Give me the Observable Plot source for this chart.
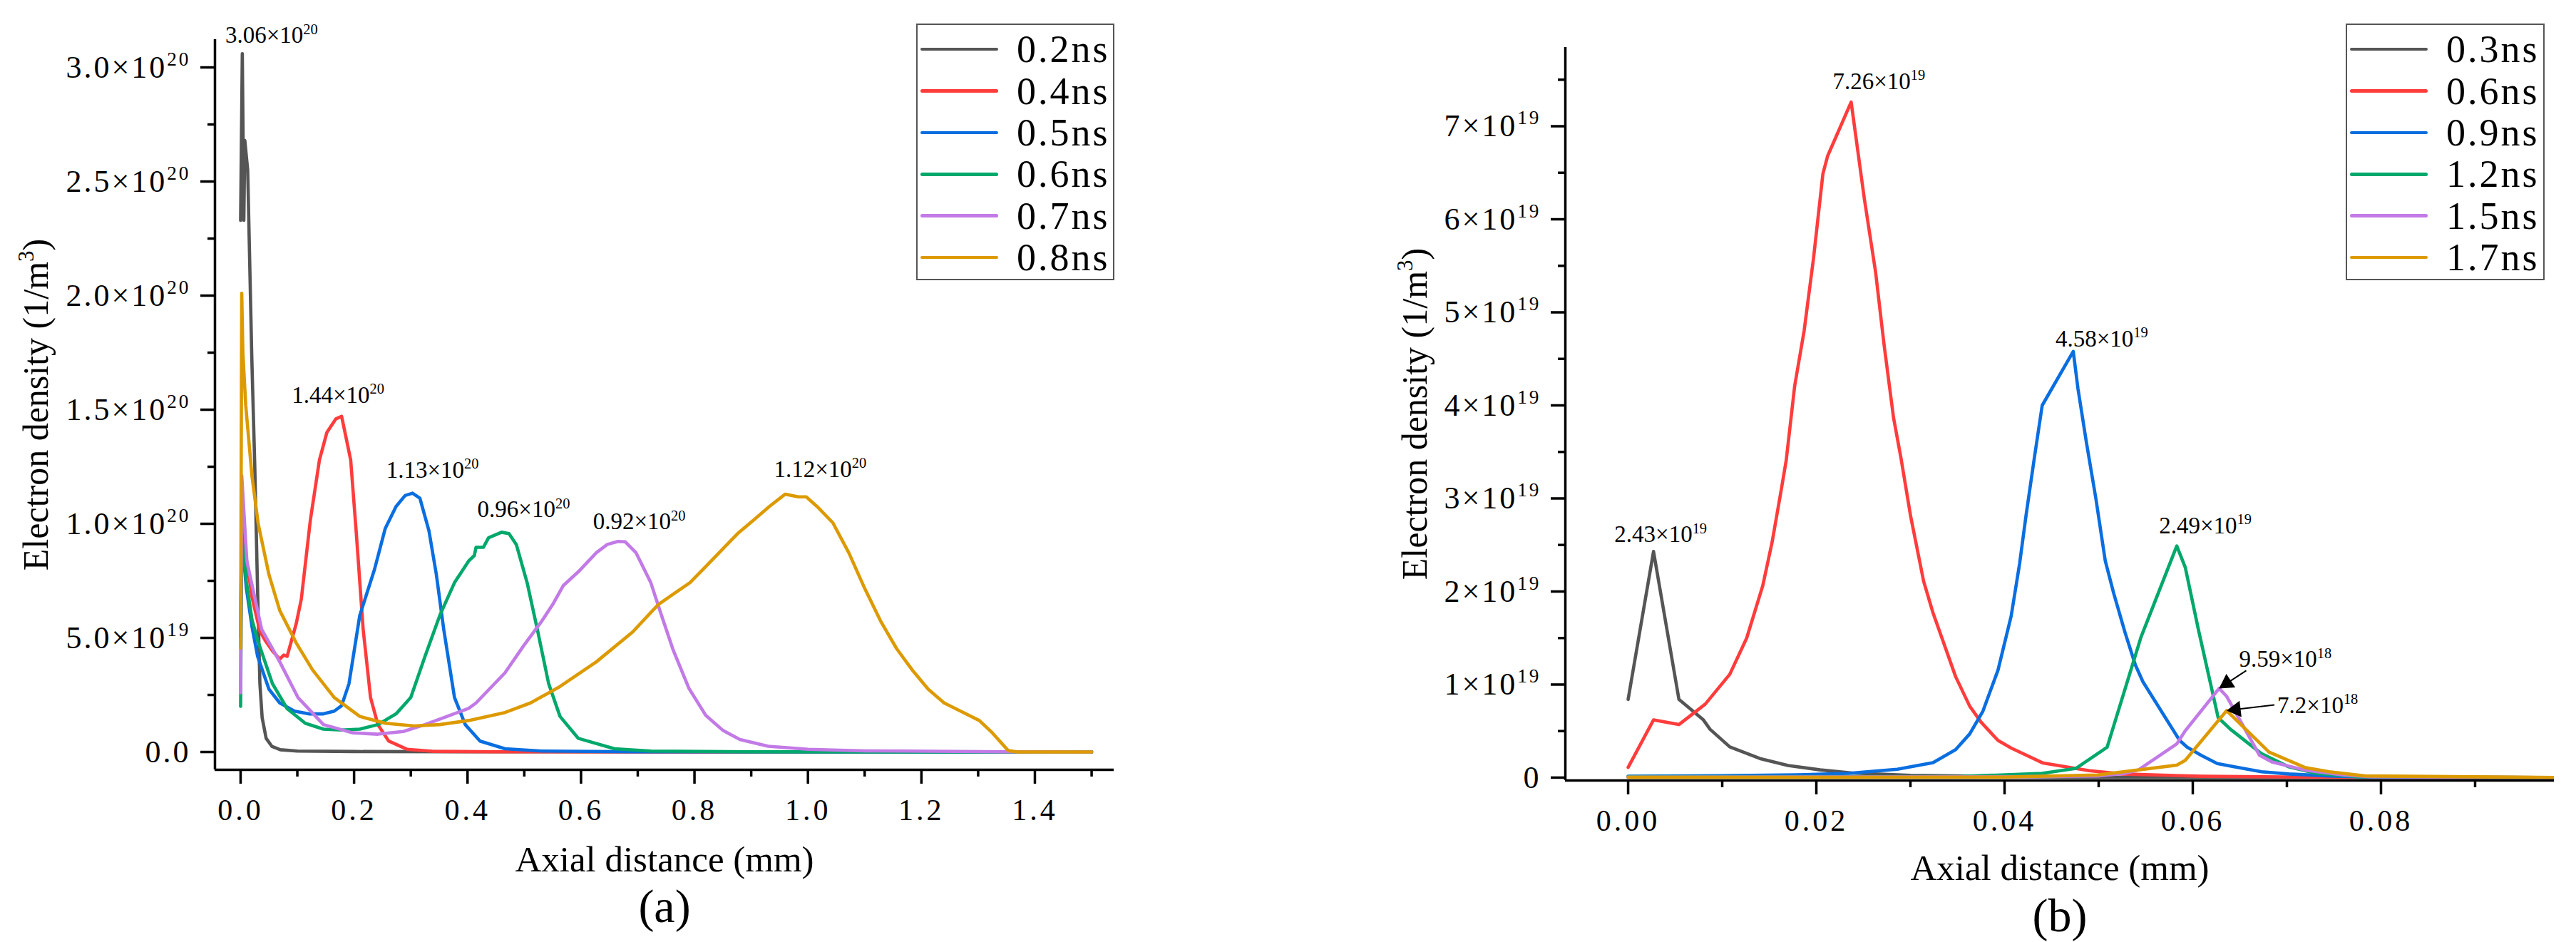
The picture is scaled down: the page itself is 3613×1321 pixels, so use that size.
<!DOCTYPE html>
<html>
<head>
<meta charset="utf-8">
<script src="https://cdn.jsdelivr.net/npm/d3@7"></script>
<script src="https://cdn.jsdelivr.net/npm/@observablehq/plot@0.6"></script>
<style>
  html, body { margin: 0; padding: 0; background: #fff; }
  #wrap { position: relative; width: 3613px; height: 1321px; overflow: hidden;
          font-family: "Liberation Serif", "DejaVu Serif", serif; }
  .legend { position: absolute; box-sizing: border-box; border: 2px solid #555; background: #fff;
            padding: 5px 0 5px 4px; }
  .legend .row { display: flex; align-items: center; height: 58.4px; }
  .legend .sw { width: 109px; height: 4.6px; border-radius: 3px; flex: none; }
  .legend .lab { margin-left: 26px; font-size: 54px; line-height: 1; color: #000; white-space: nowrap; letter-spacing: 3px; }
</style>
</head>
<body>
<div id="wrap"></div>
<script>
// ---------------- DATA : panel (a) ----------------
const seriesA = ["0.2ns", "0.4ns", "0.5ns", "0.6ns", "0.7ns", "0.8ns"];
// axial distance (mm), electron density in units of 1e20 m^-3
const xA02 = [0, 0.003, 0.0057, 0.0074, 0.0125, 0.0197, 0.025, 0.030, 0.034, 0.038, 0.045, 0.055, 0.070, 0.100, 0.200, 0.400, 1.500];
const yA02 = [2.33, 3.06, 2.33, 2.68, 2.55, 1.73, 1.25, 0.70, 0.30, 0.15, 0.06, 0.025, 0.010, 0.004, 0.002, 0.001, 0];
const xA04 = [0, 0.002, 0.010, 0.020, 0.034, 0.043, 0.056, 0.069, 0.076, 0.082, 0.098, 0.107, 0.123, 0.139, 0.152, 0.168, 0.178, 0.184, 0.194, 0.204, 0.216, 0.229, 0.242, 0.261, 0.293, 0.338, 0.450, 1.500];
const yA04 = [0.50, 1.05, 0.85, 0.68, 0.53, 0.49, 0.443, 0.407, 0.425, 0.419, 0.562, 0.67, 1.017, 1.28, 1.40, 1.46, 1.471, 1.40, 1.28, 0.957, 0.538, 0.239, 0.12, 0.048, 0.012, 0.003, 0.001, 0];
const xA05 = [0, 0.002, 0.010, 0.020, 0.030, 0.050, 0.069, 0.095, 0.120, 0.146, 0.165, 0.178, 0.191, 0.210, 0.236, 0.255, 0.274, 0.290, 0.303, 0.316, 0.332, 0.345, 0.358, 0.377, 0.396, 0.422, 0.466, 0.531, 0.700, 1.500];
const yA05 = [0.50, 0.95, 0.72, 0.55, 0.419, 0.275, 0.215, 0.179, 0.167, 0.167, 0.179, 0.203, 0.299, 0.598, 0.80, 0.98, 1.076, 1.124, 1.134, 1.112, 0.969, 0.778, 0.538, 0.239, 0.12, 0.048, 0.014, 0.004, 0.001, 0];
const xA06 = [0, 0.002, 0.010, 0.020, 0.030, 0.056, 0.082, 0.114, 0.146, 0.178, 0.210, 0.242, 0.274, 0.300, 0.325, 0.351, 0.377, 0.402, 0.412, 0.415, 0.428, 0.437, 0.460, 0.473, 0.486, 0.505, 0.524, 0.543, 0.563, 0.595, 0.659, 0.723, 0.900, 1.500];
const yA06 = [0.20, 0.95, 0.75, 0.58, 0.49, 0.30, 0.19, 0.126, 0.10, 0.096, 0.10, 0.12, 0.167, 0.239, 0.419, 0.598, 0.742, 0.837, 0.861, 0.897, 0.897, 0.939, 0.963, 0.957, 0.909, 0.742, 0.526, 0.299, 0.156, 0.06, 0.014, 0.004, 0.001, 0];
const xA07 = [0, 0.002, 0.011, 0.037, 0.069, 0.101, 0.146, 0.197, 0.242, 0.287, 0.325, 0.364, 0.402, 0.415, 0.466, 0.499, 0.531, 0.550, 0.569, 0.595, 0.627, 0.646, 0.665, 0.678, 0.697, 0.723, 0.742, 0.762, 0.790, 0.820, 0.850, 0.880, 0.930, 1.000, 1.100, 1.350, 1.500];
const yA07 = [0.26, 1.21, 0.837, 0.538, 0.395, 0.239, 0.12, 0.084, 0.078, 0.09, 0.12, 0.156, 0.191, 0.215, 0.347, 0.466, 0.574, 0.646, 0.73, 0.789, 0.873, 0.909, 0.923, 0.921, 0.873, 0.742, 0.598, 0.45, 0.28, 0.16, 0.095, 0.055, 0.025, 0.012, 0.005, 0.001, 0];
const xA08 = [0, 0.002, 0.004, 0.009, 0.020, 0.031, 0.050, 0.069, 0.098, 0.127, 0.165, 0.210, 0.255, 0.306, 0.351, 0.402, 0.466, 0.511, 0.563, 0.627, 0.691, 0.736, 0.764, 0.792, 0.820, 0.848, 0.876, 0.904, 0.932, 0.960, 0.983, 0.997, 1.016, 1.044, 1.072, 1.100, 1.128, 1.156, 1.184, 1.212, 1.240, 1.269, 1.302, 1.325, 1.353, 1.370, 1.500];
const yA08 = [0.456, 2.01, 1.75, 1.52, 1.21, 1.0, 0.777, 0.62, 0.478, 0.359, 0.239, 0.156, 0.126, 0.114, 0.12, 0.138, 0.173, 0.215, 0.287, 0.395, 0.526, 0.646, 0.694, 0.742, 0.813, 0.885, 0.957, 1.016, 1.076, 1.13, 1.118, 1.118, 1.076, 1.004, 0.873, 0.717, 0.574, 0.454, 0.359, 0.275, 0.215, 0.179, 0.138, 0.084, 0.006, 0, 0];

const xTicksA = [0, 0.2, 0.4, 0.6, 0.8, 1.0, 1.2, 1.4];
const xTickLabelsA = ["0.0", "0.2", "0.4", "0.6", "0.8", "1.0", "1.2", "1.4"];
const xMinorA = [0.1, 0.3, 0.5, 0.7, 0.9, 1.1, 1.3, 1.5];
const yTicksA = [0, 0.5e20, 1.0e20, 1.5e20, 2.0e20, 2.5e20, 3.0e20];
const yTickLabelsA = ["0.0", "5.0×10^19", "1.0×10^20", "1.5×10^20", "2.0×10^20", "2.5×10^20", "3.0×10^20"];
const yMinorA = [0.25e20, 0.75e20, 1.25e20, 1.75e20, 2.25e20, 2.75e20];

const peakTextA = ["3.06×10^20", "1.44×10^20", "1.13×10^20", "0.96×10^20", "0.92×10^20", "1.12×10^20"];
const peakXA = [0.003, 0.178, 0.303, 0.460, 0.665, 0.960];
const peakYA = [3.06, 1.471, 1.134, 0.963, 0.923, 1.13];

// ---------------- DATA : panel (b) ----------------
const seriesB = ["0.3ns", "0.6ns", "0.9ns", "1.2ns", "1.5ns", "1.7ns"];
// axial distance (mm), electron density in units of 1e19 m^-3
const xB03 = [0, 0.0027, 0.0054, 0.0080, 0.0087, 0.0108, 0.0140, 0.0170, 0.0204, 0.0238, 0.0300, 0.0400, 0.0500, 0.1000];
const yB03 = [0.84, 2.43, 0.84, 0.62, 0.52, 0.33, 0.205, 0.13, 0.083, 0.049, 0.025, 0.010, 0.004, 0];
const xB06 = [0, 0.0027, 0.0054, 0.0082, 0.0108, 0.0126, 0.0143, 0.0153, 0.0163, 0.0168, 0.0177, 0.0187, 0.0197, 0.0207, 0.0212, 0.0237, 0.0251, 0.0263, 0.0272, 0.0282, 0.0290, 0.0300, 0.0314, 0.0324, 0.0348, 0.0363, 0.0375, 0.0393, 0.0407, 0.0441, 0.0490, 0.0525, 0.0610, 0.0695, 0.0780, 0.1000];
const yB06 = [0.11, 0.62, 0.57, 0.79, 1.11, 1.50, 2.06, 2.53, 3.11, 3.41, 4.21, 4.80, 5.58, 6.49, 6.68, 7.26, 6.22, 5.43, 4.65, 3.87, 3.43, 2.82, 2.11, 1.77, 1.085, 0.767, 0.596, 0.40, 0.318, 0.156, 0.074, 0.039, 0.014, 0.007, 0.0035, 0];
const xB09 = [0, 0.0098, 0.0180, 0.0234, 0.0286, 0.0324, 0.0348, 0.0363, 0.0377, 0.0393, 0.0407, 0.0416, 0.0423, 0.0432, 0.0440, 0.0473, 0.0478, 0.0487, 0.0497, 0.0507, 0.0516, 0.0528, 0.0539, 0.0547, 0.0586, 0.0594, 0.0609, 0.0626, 0.0644, 0.0673, 0.0702, 0.0745, 0.0789, 0.1000];
const yB09 = [0.014, 0.02, 0.03, 0.046, 0.09, 0.16, 0.30, 0.47, 0.714, 1.154, 1.735, 2.30, 2.83, 3.46, 4.00, 4.58, 4.18, 3.60, 3.00, 2.33, 1.98, 1.56, 1.21, 1.03, 0.40, 0.327, 0.239, 0.151, 0.116, 0.063, 0.039, 0.018, 0.004, 0];
const xB12 = [0, 0.0200, 0.0354, 0.0440, 0.0476, 0.0509, 0.0545, 0.0583, 0.0592, 0.0606, 0.0627, 0.0640, 0.0673, 0.0702, 0.0731, 0.0774, 0.1000];
const yB12 = [0.01, 0.01, 0.012, 0.046, 0.10, 0.327, 1.51, 2.49, 2.26, 1.59, 0.644, 0.52, 0.257, 0.116, 0.046, 0.01, 0];
const xB15 = [0, 0.0400, 0.0499, 0.0528, 0.0542, 0.0583, 0.0592, 0.0628, 0.0636, 0.0671, 0.0684, 0.0719, 0.0760, 0.0789, 0.1000];
const yB15 = [0.005, 0.008, 0.018, 0.046, 0.081, 0.362, 0.503, 0.959, 0.873, 0.239, 0.169, 0.081, 0.028, 0.01, 0];
const xB17 = [0, 0.0400, 0.0499, 0.0583, 0.0592, 0.0636, 0.0681, 0.0719, 0.0745, 0.0783, 0.1000];
const yB17 = [0.003, 0.005, 0.028, 0.134, 0.186, 0.72, 0.274, 0.109, 0.063, 0.018, 0];

const xTicksB = [0, 0.02, 0.04, 0.06, 0.08];
const xTickLabelsB = ["0.00", "0.02", "0.04", "0.06", "0.08"];
const xMinorB = [0.01, 0.03, 0.05, 0.07, 0.09];
const yTicksB = [0, 1e19, 2e19, 3e19, 4e19, 5e19, 6e19, 7e19];
const yTickLabelsB = ["0", "1×10^19", "2×10^19", "3×10^19", "4×10^19", "5×10^19", "6×10^19", "7×10^19"];
const yMinorB = [0.5e19, 1.5e19, 2.5e19, 3.5e19, 4.5e19, 5.5e19, 6.5e19, 7.5e19];

const peakTextB = ["2.43×10^19", "7.26×10^19", "4.58×10^19", "2.49×10^19", "9.59×10^18", "7.2×10^18"];
const peakXB = [0.0027, 0.0237, 0.0473, 0.0583, 0.0628, 0.0636];
const peakYB = [2.43, 7.26, 4.58, 2.49, 0.959, 0.72];

// ---------------- STYLE / LAYOUT ----------------
const FONT = '"Liberation Serif", "DejaVu Serif", serif';
const COLORS = ["#555555", "#ff3c3c", "#0a6ee0", "#00a86b", "#c27ae6", "#dd9a00"];
const labelOffsetA = [[41, -15], [-5, -19], [28, -22], [31, -21], [30, -17], [49, -24]];
const labelOffsetB = [[10, -13], [39, -18], [40, -7], [40, -18], [28, -30], [71, 3]];
const labelAnchorB = ["middle", "middle", "middle", "middle", "start", "start"];
const arrowTailB = [null, null, null, null, [38, -25], [67, -8]];

const E20 = 1e20, E19 = 1e19;

function makeRows(names, xs, ys, unit) {
  return names.flatMap((name, i) => xs[i].map((x, j) => ({series: name, x, y: ys[i][j] * unit})));
}
const rowsA = makeRows(seriesA, [xA02, xA04, xA05, xA06, xA07, xA08], [yA02, yA04, yA05, yA06, yA07, yA08], E20);
const rowsB = makeRows(seriesB, [xB03, xB06, xB09, xB12, xB15, xB17], [yB03, yB06, yB09, yB12, yB15, yB17], E19);

function lookup(ticks, labels) { return d => labels[ticks.indexOf(d)] ?? ""; }

function panel(o) {
  const marks = [
    Plot.line(o.rows, {x: "x", y: "y", stroke: "series", strokeWidth: 4.6, strokeLinejoin: "round", strokeLinecap: "round", clip: true}),
    Plot.ruleX([o.xDomain[0]], {stroke: "#000", strokeWidth: 3.5}),
    Plot.ruleY([o.yDomain[0]], {stroke: "#000", strokeWidth: 3.5}),
    Plot.axisX({ticks: o.xTicks, tickFormat: lookup(o.xTicks, o.xTickLabels), tickSize: 20, tickPadding: 21, strokeWidth: 3.5, fontSize: 42, label: null, fill: "#000"}),
    Plot.axisX({ticks: o.xMinor, tickFormat: () => "", tickSize: 10, strokeWidth: 3.5, label: null}),
    Plot.axisY({ticks: o.yTicks, tickFormat: lookup(o.yTicks, o.yTickLabels), tickSize: 20, tickPadding: 14, strokeWidth: 3.5, fontSize: 44, label: null, fill: "#000"}),
    Plot.axisY({ticks: o.yMinor, tickFormat: () => "", tickSize: 10, strokeWidth: 3.5, label: null}),
    Plot.text(["Electron density (1/m^3)"], {frameAnchor: "left", dx: o.yTitleDx, rotate: -90, fontSize: 50, textAnchor: "middle", lineAnchor: "middle", fill: "#000"}),
    Plot.text(["Axial distance (mm)"], {frameAnchor: "bottom", dy: o.xTitleDy, fontSize: 51, textAnchor: "middle", lineAnchor: "middle", fill: "#000"}),
    Plot.text([o.tag], {frameAnchor: "bottom", dy: o.tagDy, fontSize: 66, textAnchor: "middle", lineAnchor: "middle", fill: "#000"}),
    ...o.peakText.map((label, i) => Plot.text([{x: o.peakX[i], y: o.peakY[i] * o.unit, label}], {
      x: "x", y: "y", text: "label", dx: o.offsets[i][0], dy: o.offsets[i][1], fontSize: 33,
      textAnchor: o.anchors ? o.anchors[i] : "middle", lineAnchor: "bottom", fill: "#000"
    }))
  ];
  if (o.arrows) {
    const sx = Plot.scale({x: {type: "linear", domain: o.xDomain, range: [o.mL, o.W - o.mR]}});
    const sy = Plot.scale({y: {type: "linear", domain: o.yDomain, range: [o.H - o.mB, o.mT]}});
    o.arrows.forEach((tail, i) => {
      if (!tail) return;
      const px = sx.apply(o.peakX[i]), py = sy.apply(o.peakY[i] * o.unit);
      const tx = px + tail[0], ty = py + tail[1];
      const len = Math.hypot(px - tx, py - ty);
      const ux = (px - tx) / len, uy = (py - ty) / len;
      const angle = Math.atan2(ux, -uy) * 180 / Math.PI;
      marks.push(Plot.link([{x1: sx.invert(tx), y1: sy.invert(ty), x2: sx.invert(px - ux * 14), y2: sy.invert(py - uy * 14)}],
        {x1: "x1", y1: "y1", x2: "x2", y2: "y2", stroke: "#000", strokeWidth: 2}));
      marks.push(Plot.dot([{x: sx.invert(px - ux * 13), y: sy.invert(py - uy * 13)}],
        {x: "x", y: "y", symbol: "triangle", r: 8.5, fill: "#000", stroke: "none", rotate: angle}));
    });
  }
  const svg = Plot.plot({
    width: o.W, height: o.H,
    marginLeft: o.mL, marginRight: o.mR, marginTop: o.mT, marginBottom: o.mB,
    style: {fontFamily: FONT, fontSize: "44px", background: "transparent", position: "absolute", left: o.left + "px", top: "0px", overflow: "visible", maxWidth: "none"},
    x: {domain: o.xDomain, label: null},
    y: {domain: o.yDomain, label: null},
    color: {domain: o.series, range: COLORS},
    marks
  });
  // tick labels of the reference use a wide, spaced digit style
  svg.querySelectorAll('g[aria-label="x-axis tick label"] text').forEach(t => t.setAttribute("letter-spacing", "4"));
  svg.querySelectorAll('g[aria-label="y-axis tick label"] text').forEach(t => t.setAttribute("letter-spacing", "3"));
  return svg;
}

const NS = "http://www.w3.org/2000/svg";
function supify(root) {
  root.querySelectorAll("text").forEach(t => {
    const s = t.textContent;
    const m = s.match(/^(.*?)\^(\d+)(.*)$/);
    if (!m) return;
    while (t.firstChild) t.removeChild(t.firstChild);
    const a = document.createElementNS(NS, "tspan"); a.textContent = m[1]; t.appendChild(a);
    const b = document.createElementNS(NS, "tspan"); b.textContent = m[2];
    b.setAttribute("font-size", "62%"); b.setAttribute("dy", "-0.62em"); t.appendChild(b);
    if (m[3]) { const c = document.createElementNS(NS, "tspan"); c.textContent = m[3]; c.setAttribute("dy", "0.385em"); t.appendChild(c); }
  });
}

function legend(names, left, top, width) {
  const div = document.createElement("div");
  div.className = "legend";
  div.style.left = left + "px"; div.style.top = top + "px"; div.style.width = width + "px"; div.style.height = "360px";
  names.forEach((n, i) => {
    const row = document.createElement("div"); row.className = "row";
    const sw = document.createElement("div"); sw.className = "sw"; sw.style.background = COLORS[i];
    const lab = document.createElement("span"); lab.className = "lab"; lab.textContent = n;
    row.append(sw, lab); div.appendChild(row);
  });
  return div;
}

const wrap = document.getElementById("wrap");
const chartA = panel({
  left: 0, W: 1800, H: 1321, mL: 301, mR: 238, mT: 55, mB: 242,
  xDomain: [-0.0452, 1.5395], yDomain: [-0.078e20, 3.122e20], unit: E20,
  rows: rowsA, series: seriesA,
  xTicks: xTicksA, xTickLabels: xTickLabelsA, xMinor: xMinorA,
  yTicks: yTicksA, yTickLabels: yTickLabelsA, yMinor: yMinorA,
  yTitleDx: -251, xTitleDy: 126, tagDy: 192, tag: "(a)",
  peakText: peakTextA, peakX: peakXA, peakY: peakYA, offsets: labelOffsetA
});
const chartB = panel({
  left: 1800, W: 1813, H: 1321, mL: 395, mR: 31, mT: 66, mB: 227,
  xDomain: [-0.00667, 0.09841], yDomain: [-0.031e19, 7.847e19], unit: E19,
  rows: rowsB, series: seriesB,
  xTicks: xTicksB, xTickLabels: xTickLabelsB, xMinor: xMinorB,
  yTicks: yTicksB, yTickLabels: yTickLabelsB, yMinor: yMinorB,
  yTitleDx: -211, xTitleDy: 123, tagDy: 190, tag: "(b)",
  peakText: peakTextB, peakX: peakXB, peakY: peakYB, offsets: labelOffsetB, anchors: labelAnchorB, arrows: arrowTailB
});
supify(chartA); supify(chartB);
wrap.appendChild(chartA);
wrap.appendChild(chartB);
wrap.appendChild(legend(seriesA, 1285, 33, 278));
wrap.appendChild(legend(seriesB, 3290, 33, 279));
</script>
</body>
</html>
